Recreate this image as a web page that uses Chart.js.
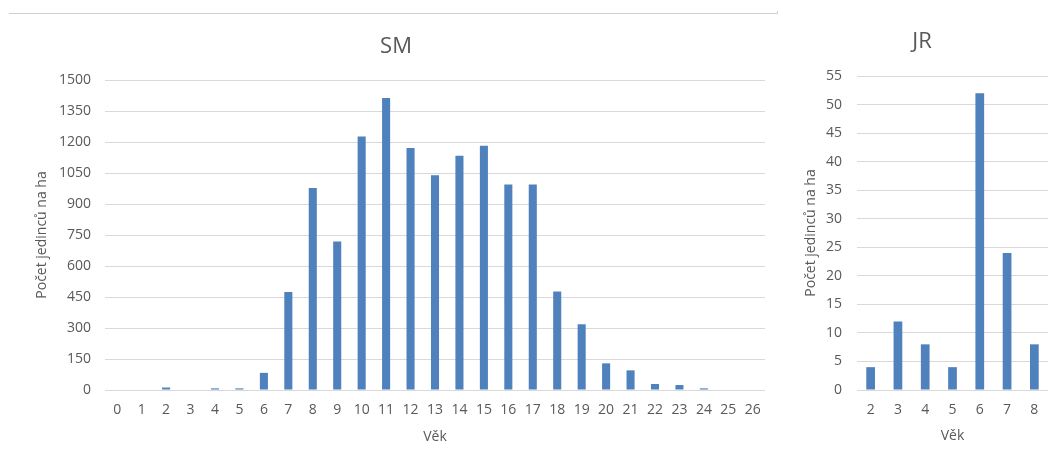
<!DOCTYPE html>
<html>
<head>
<meta charset="utf-8">
<script src="https://cdn.jsdelivr.net/npm/chart.js@4/dist/chart.umd.min.js"></script>
<style>
  html, body { margin: 0; padding: 0; background: #fff; }
  body { width: 1057px; height: 460px; position: relative; overflow: hidden; }
  canvas { position: absolute; top: 0; }
  #frame { position: absolute; left: 9px; top: 11px; width: 768px; height: 2px;
           border-bottom: 1px solid #d0d0d0; border-right: 1px solid #d0d0d0; }
</style>
</head>
<body>
<div id="frame"></div>
<canvas id="sm" width="792" height="460" style="left:0px"></canvas>
<canvas id="jr" width="272" height="460" style="left:785px"></canvas>
<script>
// ---- data ----
const smAges = ['0','1','2','3','4','5','6','7','8','9','10','11','12','13','14','15','16','17','18','19','20','21','22','23','24','25','26'];
const smValues = [0, 0, 12, 0, 8, 8, 83, 474, 977, 718, 1227, 1413, 1171, 1039, 1134, 1182, 994, 994, 477, 318, 129, 95, 29, 24, 8, 0, 0];
const jrAges = ['2','3','4','5','6','7','8'];
const jrValues = [4, 12, 8, 4, 52, 24, 8];
const smTitle = 'SM';
const jrTitle = 'JR';
const yTitle = 'Počet jedinců na ha';
const xTitle = 'Věk';

const FONT = "'Open Sans', 'Noto Sans', sans-serif";
const TXT = '#595959';
const GRID = '#d9d9d9';
const BAR = '#4f81bd';

function makeChart(id, labels, values, title, cfg) {
  return new Chart(document.getElementById(id), {
    type: 'bar',
    data: {
      labels: labels,
      datasets: [{
        data: values,
        backgroundColor: BAR,
        borderWidth: 0,
        barPercentage: cfg.barPct,
        categoryPercentage: 1,
        xAxisID: 'x',
        yAxisID: 'y'
      }]
    },
    options: {
      responsive: false,
      animation: false,
      devicePixelRatio: 1,
      layout: { padding: { left: cfg.padLeft, right: 0, top: 0, bottom: 0 } },
      plugins: {
        legend: { display: false },
        tooltip: { enabled: false },
        title: {
          display: true,
          text: title,
          color: TXT,
          font: { family: FONT, size: 22, weight: 'normal', lineHeight: 1.2 },
          padding: { top: cfg.titleTop, bottom: cfg.titleBottom }
        }
      },
      scales: {
        x: {
          grid: { display: false, drawTicks: false },
          border: { display: false },
          ticks: { color: TXT, font: { family: FONT, size: 14 }, padding: 12,
                   autoSkip: false, maxRotation: 0 },
          title: { display: true, text: xTitle, color: TXT,
                   font: { family: FONT, size: 14, lineHeight: 1.2 },
                   padding: { top: 0, bottom: cfg.xTitleBottom } },
          afterFit: s => { s.height = 70; }
        },
        y: {
          min: 0, max: cfg.max,
          grid: { color: GRID, lineWidth: 1, drawTicks: false },
          border: { display: false },
          ticks: { stepSize: cfg.step, color: TXT, font: { family: FONT, size: 14 }, padding: cfg.yTickPad,
                   callback: v => String(v) },
          title: { display: true, text: yTitle, color: TXT,
                   font: { family: FONT, size: 14, lineHeight: 1.2 },
                   padding: { top: cfg.yTitleTop, bottom: 0 } },
          afterFit: s => { s.width = cfg.yWidth; }
        },
        yR: {
          type: 'linear',
          position: 'right',
          grid: { display: false, drawTicks: false },
          border: { display: false },
          ticks: { display: false },
          afterFit: s => { s.width = cfg.rightGap; }
        }
      }
    }
  });
}

makeChart('sm', smAges, smValues, smTitle, {
  barPct: 0.33, padLeft: 0, rightGap: 27, titleTop: 33.3, titleBottom: 20.3,
  xTitleBottom: 14.6, max: 1500, step: 150, yTickPad: 14, yTitleTop: 33.6, yWidth: 105
});
makeChart('jr', jrAges, jrValues, jrTitle, {
  barPct: 0.32, padLeft: 2, rightGap: 9, titleTop: 28.8, titleBottom: 20.8,
  xTitleBottom: 15.6, max: 55, step: 5, yTickPad: 15, yTitleTop: 15.6, yWidth: 70
});
</script>
</body>
</html>
